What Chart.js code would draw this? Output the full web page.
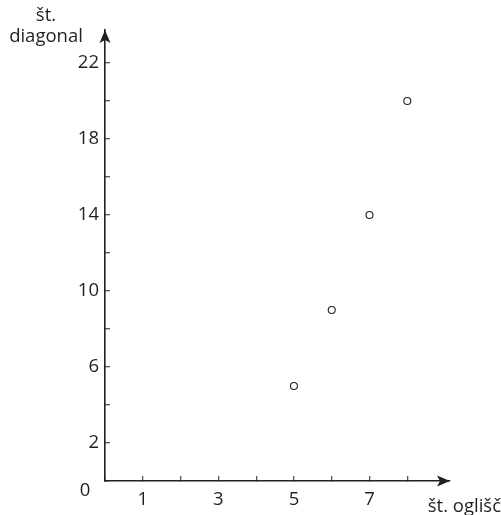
<!DOCTYPE html>
<html>
<head>
<meta charset="utf-8">
<script src="https://cdn.jsdelivr.net/npm/chart.js@4.4.0/dist/chart.umd.min.js"></script>
<style>
  html, body { margin: 0; padding: 0; background: #ffffff; }
  #wrap { width: 501px; height: 515px; }
</style>
</head>
<body>
<div id="wrap"><canvas id="c" width="501" height="515"></canvas></div>
<script>
// Number of vertices of a polygon and its number of diagonals
const vertexCounts = [5, 6, 7, 8];
const diagonalCounts = [5, 9, 14, 20];

// Axis ticks and which of them carry a label
const xTickValues = [0, 1, 2, 3, 4, 5, 6, 7, 8];
const xTickLabels = [1, 3, 5, 7];
const yTickValues = [0, 2, 4, 6, 8, 10, 12, 14, 16, 18, 20, 22];
const yTickLabels = [2, 6, 10, 14, 18, 22];

const xAxisTitle = 'št. oglišč';
const yAxisTitle = ['št.', 'diagonal'];
const originLabel = '0';

const FONT = '"Open Sans", "DejaVu Sans", sans-serif';
const FONT_SIZE = 18.5;
const INK = '#231f20';

// Arrow heads, the origin label and the axis titles
const axisDecor = {
  id: 'axisDecor',
  afterDraw(chart) {
    const { ctx, chartArea: a } = chart;
    ctx.save();
    ctx.fillStyle = INK;
    // x arrow
    ctx.beginPath();
    ctx.moveTo(a.right, a.bottom);
    ctx.lineTo(a.right - 13, a.bottom - 5.5);
    ctx.lineTo(a.right - 10, a.bottom);
    ctx.lineTo(a.right - 13, a.bottom + 5.5);
    ctx.closePath();
    ctx.fill();
    // y arrow
    ctx.beginPath();
    ctx.moveTo(a.left, a.top);
    ctx.lineTo(a.left - 5.5, a.top + 13);
    ctx.lineTo(a.left, a.top + 10);
    ctx.lineTo(a.left + 5.5, a.top + 13);
    ctx.closePath();
    ctx.fill();

    ctx.font = FONT_SIZE + 'px ' + FONT;
    ctx.textBaseline = 'middle';
    ctx.textAlign = 'center';
    ctx.fillText(originLabel, a.left - 20, a.bottom + 10);

    ctx.fillText(yAxisTitle[0], 46, 16);
    ctx.fillText(yAxisTitle[1], 46, 37);

    ctx.textAlign = 'right';
    ctx.fillText(xAxisTitle, 501, 507);
    ctx.restore();
  }
};

new Chart(document.getElementById('c'), {
  type: 'scatter',
  data: {
    datasets: [{
      data: vertexCounts.map((v, i) => ({ x: v, y: diagonalCounts[i] })),
      pointStyle: 'circle',
      pointRadius: 3.5,
      pointHoverRadius: 3.5,
      pointBorderWidth: 1.1,
      pointBorderColor: INK,
      pointBackgroundColor: '#ffffff'
    }]
  },
  options: {
    responsive: false,
    animation: false,
    devicePixelRatio: 1,
    layout: { padding: { top: 30, right: 51, left: 0, bottom: 0 } },
    plugins: { legend: { display: false }, tooltip: { enabled: false } },
    scales: {
      x: {
        type: 'linear',
        min: 0,
        max: 9.13,
        afterBuildTicks(scale) { scale.ticks = xTickValues.map(v => ({ value: v })); },
        afterFit(scale) { scale.height = 34; },
        border: { display: true, color: INK, width: 1.6 },
        grid: { display: true, drawOnChartArea: false, drawTicks: true, tickLength: -5, color: '#555', lineWidth: 1.3 },
        ticks: {
          padding: 13,
          color: INK,
          font: { family: FONT, size: FONT_SIZE },
          maxRotation: 0,
          autoSkip: false,
          callback: v => xTickLabels.includes(v) ? String(v) : ''
        }
      },
      y: {
        type: 'linear',
        min: 0,
        max: 23.74,
        afterBuildTicks(scale) { scale.ticks = yTickValues.map(v => ({ value: v })); },
        afterFit(scale) { scale.width = 105; },
        border: { display: true, color: INK, width: 1.6 },
        grid: { display: true, drawOnChartArea: false, drawTicks: true, tickLength: -5, color: '#555', lineWidth: 1.3 },
        ticks: {
          padding: 11,
          color: INK,
          font: { family: FONT, size: FONT_SIZE },
          autoSkip: false,
          callback: v => yTickLabels.includes(v) ? String(v) : ''
        }
      }
    }
  },
  plugins: [axisDecor]
});
</script>
</body>
</html>
